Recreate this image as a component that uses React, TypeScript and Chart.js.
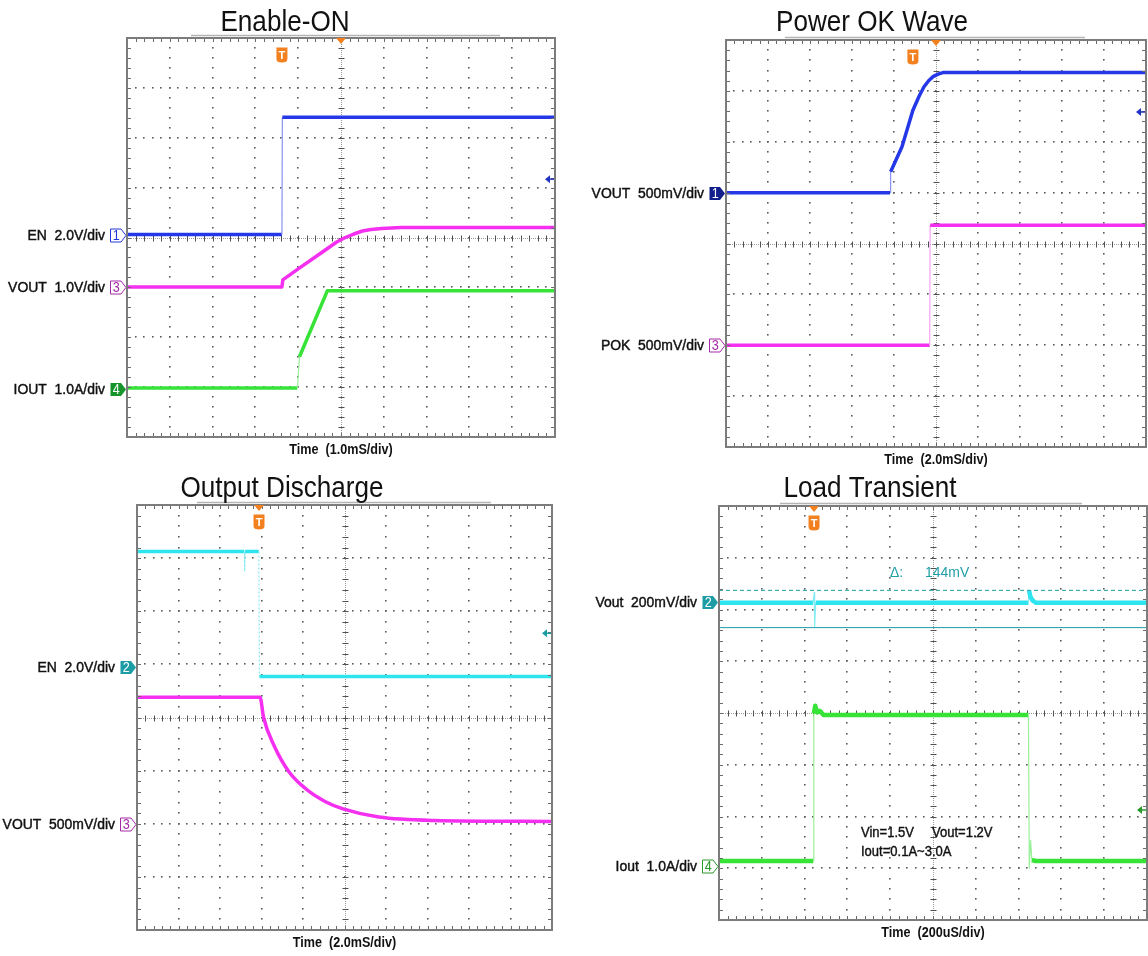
import React, { useEffect, useRef } from "react";
import { Chart, registerables } from "chart.js";

Chart.register(...registerables);

/* ---------------- data read from the four scope captures ---------------- */

// Enable-ON : time in ms (1.0 ms/div)
const enOnEnTime = [0, 3.62, 3.63, 10];
const enOnEnVolt = [0, 0, 4.7, 4.7];
const enOnVoutTime = [0, 3.62, 3.64, 4.0, 4.5, 4.9, 5.1, 5.3, 5.5, 5.7, 5.95, 6.4, 10];
const enOnVoutVolt = [0, 0, 0.14, 0.36, 0.66, 0.9, 0.99, 1.06, 1.12, 1.15, 1.17, 1.19, 1.19];
const enOnIoutTime = [0, 3.98, 4.03, 4.68, 10];
const enOnIoutAmp = [0.02, 0.02, 0.65, 1.97, 1.97];

// Power OK Wave : time in ms (2.0 ms/div)
const pokVoutTime = [0, 7.81, 7.84, 8.38, 8.9, 9.2, 9.43, 9.65, 9.86, 10.1, 10.33, 11.0, 20];
const pokVoutVolt = [0, 0, 0.205, 0.45, 0.81, 0.95, 1.04, 1.1, 1.14, 1.165, 1.18, 1.18, 1.18];
const pokPokTime = [0, 9.7, 9.72, 20];
const pokPokVolt = [0, 0, 1.18, 1.18];

// Output Discharge : time in ms (2.0 ms/div)
const disEnTime = [0, 5.17, 5.19, 5.21, 5.87, 5.9, 20];
const disEnVolt = [4.33, 4.33, 3.58, 4.33, 4.33, -0.38, -0.38];
const disVoutTime = [0, 5.93, 6.1, 6.62, 7.32, 8.19, 9.06, 9.93, 11.66, 14.27, 20];
const disVoutVolt = [1.19, 1.19, 1.0, 0.73, 0.49, 0.32, 0.21, 0.14, 0.063, 0.031, 0.022];

// Load Transient : time in us (200 us/div)
const ltVoutTime = [0, 440, 445, 447, 452, 1446, 1449, 1455, 1465, 1480, 2000];
const ltVoutMv = [-4, -4, 35, -96, -4, -4, 42, 20, 5, -4, -4];
const ltIoutTime = [0, 441, 443, 450, 458, 470, 490, 1446, 1450, 1456, 1462, 1480, 2000];
const ltIoutAmp = [0.1, 0.1, 2.95, 3.1, 2.97, 3.0, 2.92, 2.92, -0.04, 0.5, 0.12, 0.1, 0.1];
const ltCursorMv = [44, -100];

/* ---------------- panel description ---------------- */

const FONT = '"Liberation Sans", Arial, Helvetica, sans-serif';

type Channel = {
  axisId: string;
  label: string;
  num: string;
  offsetDiv: number;
  perDiv: number;
  markerColor: string;
  filled: boolean;
};
type Trace = {
  label: string;
  axisId: string;
  time: number[];
  values: number[];
  color: string;
  edgeColor: string;
  width: number;
  smooth?: boolean;
  dashedEdges?: boolean;
  dash?: number[];
};
type Panel = {
  id: string;
  canvas: { left: number; top: number; width: number; height: number };
  box: { left: number; top: number; right: number; bottom: number };
  xMax: number;
  title: string;
  titleX: number;
  titleBase: number;
  xTitle: string;
  underline: [number, number];
  channels: Channel[];
  traces: Trace[];
  trigTime: number;
  posTime: number;
  levelDiv: number;
  levelColor: string;
  extra?: (chart: Chart, ox: number, oy: number) => void;
};

const BLUE = "#2438e8";
const BLUE_EDGE = "#8793f2";
const MAG = "#f42ff0";
const MAG_EDGE = "#f7a3f3";
const GREEN = "#38e338";
const GREEN_EDGE = "#9af09a";
const CYAN = "#2de4ef";
const CYAN_EDGE = "#86ecf3";
const TEAL = "#1c9ca4";
const ORANGE = "#f2801f";

function drawText(
  ctx: CanvasRenderingContext2D,
  s: string,
  x: number,
  y: number,
  size: number,
  color: string,
  align: CanvasTextAlign,
  baseline: CanvasTextBaseline = "alphabetic",
  weight = "normal",
  sx = 0.93,
  stroke = 0
) {
  ctx.save();
  ctx.font = `${weight} ${size}px ${FONT}`;
  ctx.fillStyle = color;
  ctx.textAlign = align;
  ctx.textBaseline = baseline;
  ctx.translate(x, y);
  ctx.scale(sx, 1);
  ctx.fillText(s, 0, 0);
  if (stroke > 0) {
    ctx.strokeStyle = color;
    ctx.lineWidth = stroke;
    ctx.strokeText(s, 0, 0);
  }
  ctx.restore();
}

const PANELS: Panel[] = [
  {
    id: "enable-on",
    canvas: { left: 0, top: 0, width: 570, height: 470 },
    box: { left: 127, top: 38, right: 555, bottom: 437 },
    xMax: 10,
    title: "Enable-ON",
    titleX: 285,
    titleBase: 31,
    xTitle: "Time  (1.0mS/div)",
    underline: [191, 500],
    channels: [
      { axisId: "y1", label: "EN  2.0V/div", num: "1", offsetDiv: 0.06, perDiv: 2.0, markerColor: "#2438d8", filled: false },
      { axisId: "y3", label: "VOUT  1.0V/div", num: "3", offsetDiv: -0.99, perDiv: 1.0, markerColor: "#a52aa8", filled: false },
      { axisId: "y4", label: "IOUT  1.0A/div", num: "4", offsetDiv: -3.04, perDiv: 1.0, markerColor: "#17952a", filled: true },
    ],
    traces: [
      { label: "IOUT", axisId: "y4", time: enOnIoutTime, values: enOnIoutAmp, color: GREEN, edgeColor: GREEN_EDGE, width: 3.5 },
      { label: "VOUT", axisId: "y3", time: enOnVoutTime, values: enOnVoutVolt, color: MAG, edgeColor: MAG_EDGE, width: 3.5 },
      { label: "EN", axisId: "y1", time: enOnEnTime, values: enOnEnVolt, color: BLUE, edgeColor: BLUE_EDGE, width: 3.5 },
    ],
    trigTime: 3.62,
    posTime: 5,
    levelDiv: 1.17,
    levelColor: "#2234c0",
  },
  {
    id: "power-ok",
    canvas: { left: 570, top: 0, width: 578, height: 470 },
    box: { left: 726, top: 40, right: 1146, bottom: 447 },
    xMax: 20,
    title: "Power OK Wave",
    titleX: 872,
    titleBase: 31,
    xTitle: "Time  (2.0mS/div)",
    underline: [785, 1085],
    channels: [
      { axisId: "y1", label: "VOUT  500mV/div", num: "1", offsetDiv: 1.0, perDiv: 0.5, markerColor: "#13208c", filled: true },
      { axisId: "y3", label: "POK  500mV/div", num: "3", offsetDiv: -2.0, perDiv: 0.5, markerColor: "#a52aa8", filled: false },
    ],
    traces: [
      { label: "POK", axisId: "y3", time: pokPokTime, values: pokPokVolt, color: MAG, edgeColor: MAG_EDGE, width: 3.5 },
      { label: "VOUT", axisId: "y1", time: pokVoutTime, values: pokVoutVolt, color: BLUE, edgeColor: BLUE_EDGE, width: 3.5 },
    ],
    trigTime: 8.9,
    posTime: 10,
    levelDiv: 2.585,
    levelColor: "#2234c0",
  },
  {
    id: "discharge",
    canvas: { left: 0, top: 470, width: 570, height: 486 },
    box: { left: 137, top: 505, right: 552, bottom: 930 },
    xMax: 20,
    title: "Output Discharge",
    titleX: 282,
    titleBase: 497,
    xTitle: "Time  (2.0mS/div)",
    underline: [197, 491],
    channels: [
      { axisId: "y2", label: "EN  2.0V/div", num: "2", offsetDiv: 0.96, perDiv: 2.0, markerColor: TEAL, filled: true },
      { axisId: "y3", label: "VOUT  500mV/div", num: "3", offsetDiv: -2.0, perDiv: 0.5, markerColor: "#a52aa8", filled: false },
    ],
    traces: [
      { label: "VOUT", axisId: "y3", time: disVoutTime, values: disVoutVolt, color: MAG, edgeColor: MAG_EDGE, width: 3.5, smooth: true },
      { label: "EN", axisId: "y2", time: disEnTime, values: disEnVolt, color: CYAN, edgeColor: CYAN_EDGE, width: 3.5, dashedEdges: true },
    ],
    trigTime: 5.88,
    posTime: 5.88,
    levelDiv: 1.585,
    levelColor: TEAL,
  },
  {
    id: "load-transient",
    canvas: { left: 570, top: 470, width: 578, height: 486 },
    box: { left: 719, top: 506, right: 1147, bottom: 920 },
    xMax: 2000,
    title: "Load Transient",
    titleX: 870,
    titleBase: 497,
    xTitle: "Time  (200uS/div)",
    underline: [780, 1082],
    channels: [
      { axisId: "y2", label: "Vout  200mV/div", num: "2", offsetDiv: 2.15, perDiv: 200, markerColor: TEAL, filled: true },
      { axisId: "y4", label: "Iout  1.0A/div", num: "4", offsetDiv: -2.96, perDiv: 1.0, markerColor: "#2a9a2a", filled: false },
    ],
    traces: [
      { label: "Cursor 1", axisId: "y2", time: [0, 2000], values: [ltCursorMv[0], ltCursorMv[0]], color: TEAL, edgeColor: TEAL, width: 1, dash: [4, 3] },
      { label: "Cursor 2", axisId: "y2", time: [0, 2000], values: [ltCursorMv[1], ltCursorMv[1]], color: TEAL, edgeColor: TEAL, width: 1 },
      { label: "Iout", axisId: "y4", time: ltIoutTime, values: ltIoutAmp, color: GREEN, edgeColor: GREEN_EDGE, width: 4.5 },
      { label: "Vout", axisId: "y2", time: ltVoutTime, values: ltVoutMv, color: CYAN, edgeColor: CYAN_EDGE, width: 4.5 },
    ],
    trigTime: 444,
    posTime: 444,
    levelDiv: -1.874,
    levelColor: "#2a9a2a",
    extra: (chart, ox, oy) => {
      const ctx = chart.ctx;
      drawText(ctx, "\u0394:", 890 - ox, 573 - oy, 15, "#1f9fa8", "left", "middle");
      drawText(ctx, `${ltCursorMv[0] - ltCursorMv[1]}mV`, 925 - ox, 573 - oy, 15, "#1f9fa8", "left", "middle");
      drawText(ctx, "Vin=1.5V     Vout=1.2V", 861 - ox, 833 - oy, 14, "#111", "left", "middle", "normal", 0.93, 0.4);
      drawText(ctx, "Iout=0.1A~3.0A", 861 - ox, 852 - oy, 14, "#111", "left", "middle", "normal", 0.93, 0.4);
    },
  },
];

/* ---------------- drawing helpers for the graticule ---------------- */

function graticule(chart: Chart, p: Panel) {
  const ctx = chart.ctx;
  const a = chart.chartArea;
  const xs: any = (chart.scales as any).x;
  const ys: any = (chart.scales as any).yDiv;
  const X = (d: number) => xs.getPixelForValue((d * p.xMax) / 10);
  const Y = (d: number) => ys.getPixelForValue(d);
  ctx.save();
  ctx.fillStyle = "#5c5c5c";
  const dot = (x: number, y: number) => ctx.fillRect(Math.round(x) - 1, Math.round(y) - 1, 1.6, 1.6);
  for (let i = 1; i < 10; i++) {
    if (i === 5) continue;
    for (let j = 1; j < 40; j++) dot(X(i), Y(-4 + j * 0.2));
  }
  for (let k = -3; k <= 3; k++) {
    if (k === 0) continue;
    for (let m = 1; m < 50; m++) dot(X(m * 0.2), Y(k));
  }
  // centre lines
  const cx = Math.round(X(5)) + 0.5;
  const cy = Math.round(Y(0)) + 0.5;
  ctx.strokeStyle = "#9a9a9a";
  ctx.lineWidth = 1;
  ctx.setLineDash([1, 1]);
  ctx.beginPath();
  ctx.moveTo(cx, a.top);
  ctx.lineTo(cx, a.bottom);
  ctx.moveTo(a.left, cy);
  ctx.lineTo(a.right, cy);
  ctx.stroke();
  ctx.setLineDash([]);
  ctx.strokeStyle = "#505050";
  ctx.beginPath();
  for (let j = 1; j < 40; j++) {
    const y = Math.round(Y(-4 + j * 0.2)) + 0.5;
    ctx.moveTo(cx - 3, y);
    ctx.lineTo(cx + 3, y);
  }
  for (let m = 1; m < 50; m++) {
    const x = Math.round(X(m * 0.2)) + 0.5;
    ctx.moveTo(x, cy - 3);
    ctx.lineTo(x, cy + 3);
  }
  ctx.stroke();
  ctx.restore();
}

function frame(chart: Chart, p: Panel) {
  const ctx = chart.ctx;
  const a = chart.chartArea;
  const xs: any = (chart.scales as any).x;
  const ys: any = (chart.scales as any).yDiv;
  const X = (d: number) => xs.getPixelForValue((d * p.xMax) / 10);
  const Y = (d: number) => ys.getPixelForValue(d);
  const ox = p.canvas.left;
  const oy = p.canvas.top;
  ctx.save();
  // faint line above the frame
  ctx.strokeStyle = "#b4b4b4";
  ctx.lineWidth = 1.5;
  ctx.beginPath();
  ctx.moveTo(p.underline[0] - ox, a.top - 2.5);
  ctx.lineTo(p.underline[1] - ox, a.top - 2.5);
  ctx.stroke();
  // border ticks
  ctx.strokeStyle = "#6a6a6a";
  ctx.lineWidth = 1;
  ctx.beginPath();
  for (let m = 1; m < 50; m++) {
    const x = Math.round(X(m * 0.2)) + 0.5;
    ctx.moveTo(x, a.top);
    ctx.lineTo(x, a.top + 4);
    ctx.moveTo(x, a.bottom);
    ctx.lineTo(x, a.bottom - 4);
  }
  for (let j = 1; j < 40; j++) {
    const y = Math.round(Y(-4 + j * 0.2)) + 0.5;
    ctx.moveTo(a.left, y);
    ctx.lineTo(a.left + 4, y);
    ctx.moveTo(a.right, y);
    ctx.lineTo(a.right - 4, y);
  }
  ctx.stroke();
  // border
  ctx.strokeStyle = "#7c7c7c";
  ctx.lineWidth = 2;
  ctx.strokeRect(a.left, a.top, a.right - a.left, a.bottom - a.top);

  // horizontal position triangle
  const tx = xs.getPixelForValue(p.posTime);
  ctx.fillStyle = ORANGE;
  ctx.beginPath();
  ctx.moveTo(tx - 5, a.top);
  ctx.lineTo(tx + 5, a.top);
  ctx.lineTo(tx, a.top + 6);
  ctx.closePath();
  ctx.fill();
  // trigger badge
  const bx = xs.getPixelForValue(p.trigTime);
  const by = a.top + 17;
  ctx.beginPath();
  ctx.moveTo(bx - 5.5, by - 7.5);
  ctx.lineTo(bx + 5.5, by - 7.5);
  ctx.lineTo(bx + 5.5, by + 4);
  ctx.quadraticCurveTo(bx + 5.5, by + 7.5, bx, by + 7.5);
  ctx.quadraticCurveTo(bx - 5.5, by + 7.5, bx - 5.5, by + 4);
  ctx.closePath();
  ctx.fill();
  drawText(ctx, "T", bx, by + 0.5, 11, "#ffffff", "center", "middle", "bold", 1);

  // trigger level arrow at the right edge
  const ly = Y(p.levelDiv);
  ctx.fillStyle = p.levelColor;
  ctx.strokeStyle = p.levelColor;
  ctx.beginPath();
  ctx.moveTo(a.right - 10, ly);
  ctx.lineTo(a.right - 5, ly - 4);
  ctx.lineTo(a.right - 5, ly + 4);
  ctx.closePath();
  ctx.fill();
  ctx.lineWidth = 1.5;
  ctx.beginPath();
  ctx.moveTo(a.right - 6, ly);
  ctx.lineTo(a.right - 1, ly);
  ctx.stroke();

  // channel markers and labels
  p.channels.forEach((ch) => {
    const sc: any = (chart.scales as any)[ch.axisId];
    const y = Math.round(sc.getPixelForValue(0)) + 0.5;
    const L = a.left - 1;
    const x0 = L - 15.5;
    const x1 = L - 5;
    ctx.beginPath();
    ctx.moveTo(x0, y - 6.5);
    ctx.lineTo(x1, y - 6.5);
    ctx.lineTo(L, y);
    ctx.lineTo(x1, y + 6.5);
    ctx.lineTo(x0, y + 6.5);
    ctx.closePath();
    if (ch.filled) {
      ctx.fillStyle = ch.markerColor;
      ctx.fill();
    } else {
      ctx.fillStyle = "#ffffff";
      ctx.fill();
      ctx.strokeStyle = ch.markerColor;
      ctx.lineWidth = 1;
      ctx.stroke();
    }
    drawText(ctx, ch.num, (x0 + x1) / 2 + 0.5, y + 1, 14, ch.filled ? "#ffffff" : ch.markerColor, "center", "middle", "normal", 0.9);
    drawText(ctx, ch.label, a.left - 22, y, 15, "#111111", "right", "middle", "normal", 0.93, 0.45);
  });

  // titles
  drawText(ctx, p.title, p.titleX - ox, p.titleBase - oy, 29, "#111111", "center", "alphabetic", "normal", 0.9);
  drawText(ctx, p.xTitle, (a.left + a.right) / 2, a.bottom + 17, 14, "#111111", "center", "alphabetic", "bold", 0.9);

  if (p.extra) p.extra(chart, ox, oy);
  ctx.restore();
}

/* ---------------- chart construction ---------------- */

function isEdge(c: any) {
  const dx = Math.abs(c.p1.x - c.p0.x);
  const dy = Math.abs(c.p1.y - c.p0.y);
  return dy > 10 && dy > 8 * dx;
}

function makeChart(canvas: HTMLCanvasElement, p: Panel): Chart {
  const scales: any = {
    x: { type: "linear", min: 0, max: p.xMax, display: false },
    y: { type: "linear", display: false },
    yDiv: { type: "linear", axis: "y", min: -4, max: 4, display: false },
  };
  p.channels.forEach((ch) => {
    scales[ch.axisId] = {
      type: "linear",
      axis: "y",
      min: (-4 - ch.offsetDiv) * ch.perDiv,
      max: (4 - ch.offsetDiv) * ch.perDiv,
      display: false,
    };
  });
  const datasets: any[] = p.traces.map((t) => ({
    label: t.label,
    data: t.time.map((x, i) => ({ x, y: t.values[i] })),
    yAxisID: t.axisId,
    borderColor: t.color,
    borderWidth: t.width,
    borderDash: t.dash ?? [],
    borderJoinStyle: "round",
    pointRadius: 0,
    fill: false,
    tension: 0,
    cubicInterpolationMode: t.smooth ? "monotone" : "default",
    segment: {
      borderWidth: (c: any) => (isEdge(c) ? 1.2 : t.width),
      borderColor: (c: any) => (isEdge(c) ? t.edgeColor : t.color),
      borderDash: (c: any) => (isEdge(c) && t.dashedEdges ? [2, 2] : t.dash ?? []),
    },
  }));
  const a = p.box;
  const c = p.canvas;
  return new Chart(canvas, {
    type: "line",
    data: { datasets },
    options: {
      animation: false,
      responsive: false,
      maintainAspectRatio: false,
      devicePixelRatio: 1,
      events: [],
      layout: {
        padding: {
          left: a.left - c.left,
          top: a.top - c.top,
          right: c.left + c.width - a.right,
          bottom: c.top + c.height - a.bottom,
        },
      },
      scales,
      plugins: {
        legend: { display: false },
        title: { display: false },
        tooltip: { enabled: false },
      },
    },
    plugins: [
      {
        id: "scope-" + p.id,
        beforeDatasetsDraw: (chart: Chart) => graticule(chart, p),
        afterDatasetsDraw: (chart: Chart) => frame(chart, p),
      },
    ],
  } as any);
}

function ScopePanel({ panel }: { panel: Panel }) {
  const ref = useRef<HTMLCanvasElement>(null);
  useEffect(() => {
    if (!ref.current) return;
    const chart = makeChart(ref.current, panel);
    return () => chart.destroy();
  }, [panel]);
  return (
    <canvas
      ref={ref}
      width={panel.canvas.width}
      height={panel.canvas.height}
      style={{
        position: "absolute",
        left: panel.canvas.left,
        top: panel.canvas.top,
        width: panel.canvas.width,
        height: panel.canvas.height,
      }}
    />
  );
}

export default function App() {
  return (
    <div style={{ position: "absolute", left: 0, top: 0, width: 1148, height: 956, background: "#ffffff" }}>
      {PANELS.map((p) => (
        <ScopePanel key={p.id} panel={p} />
      ))}
    </div>
  );
}
